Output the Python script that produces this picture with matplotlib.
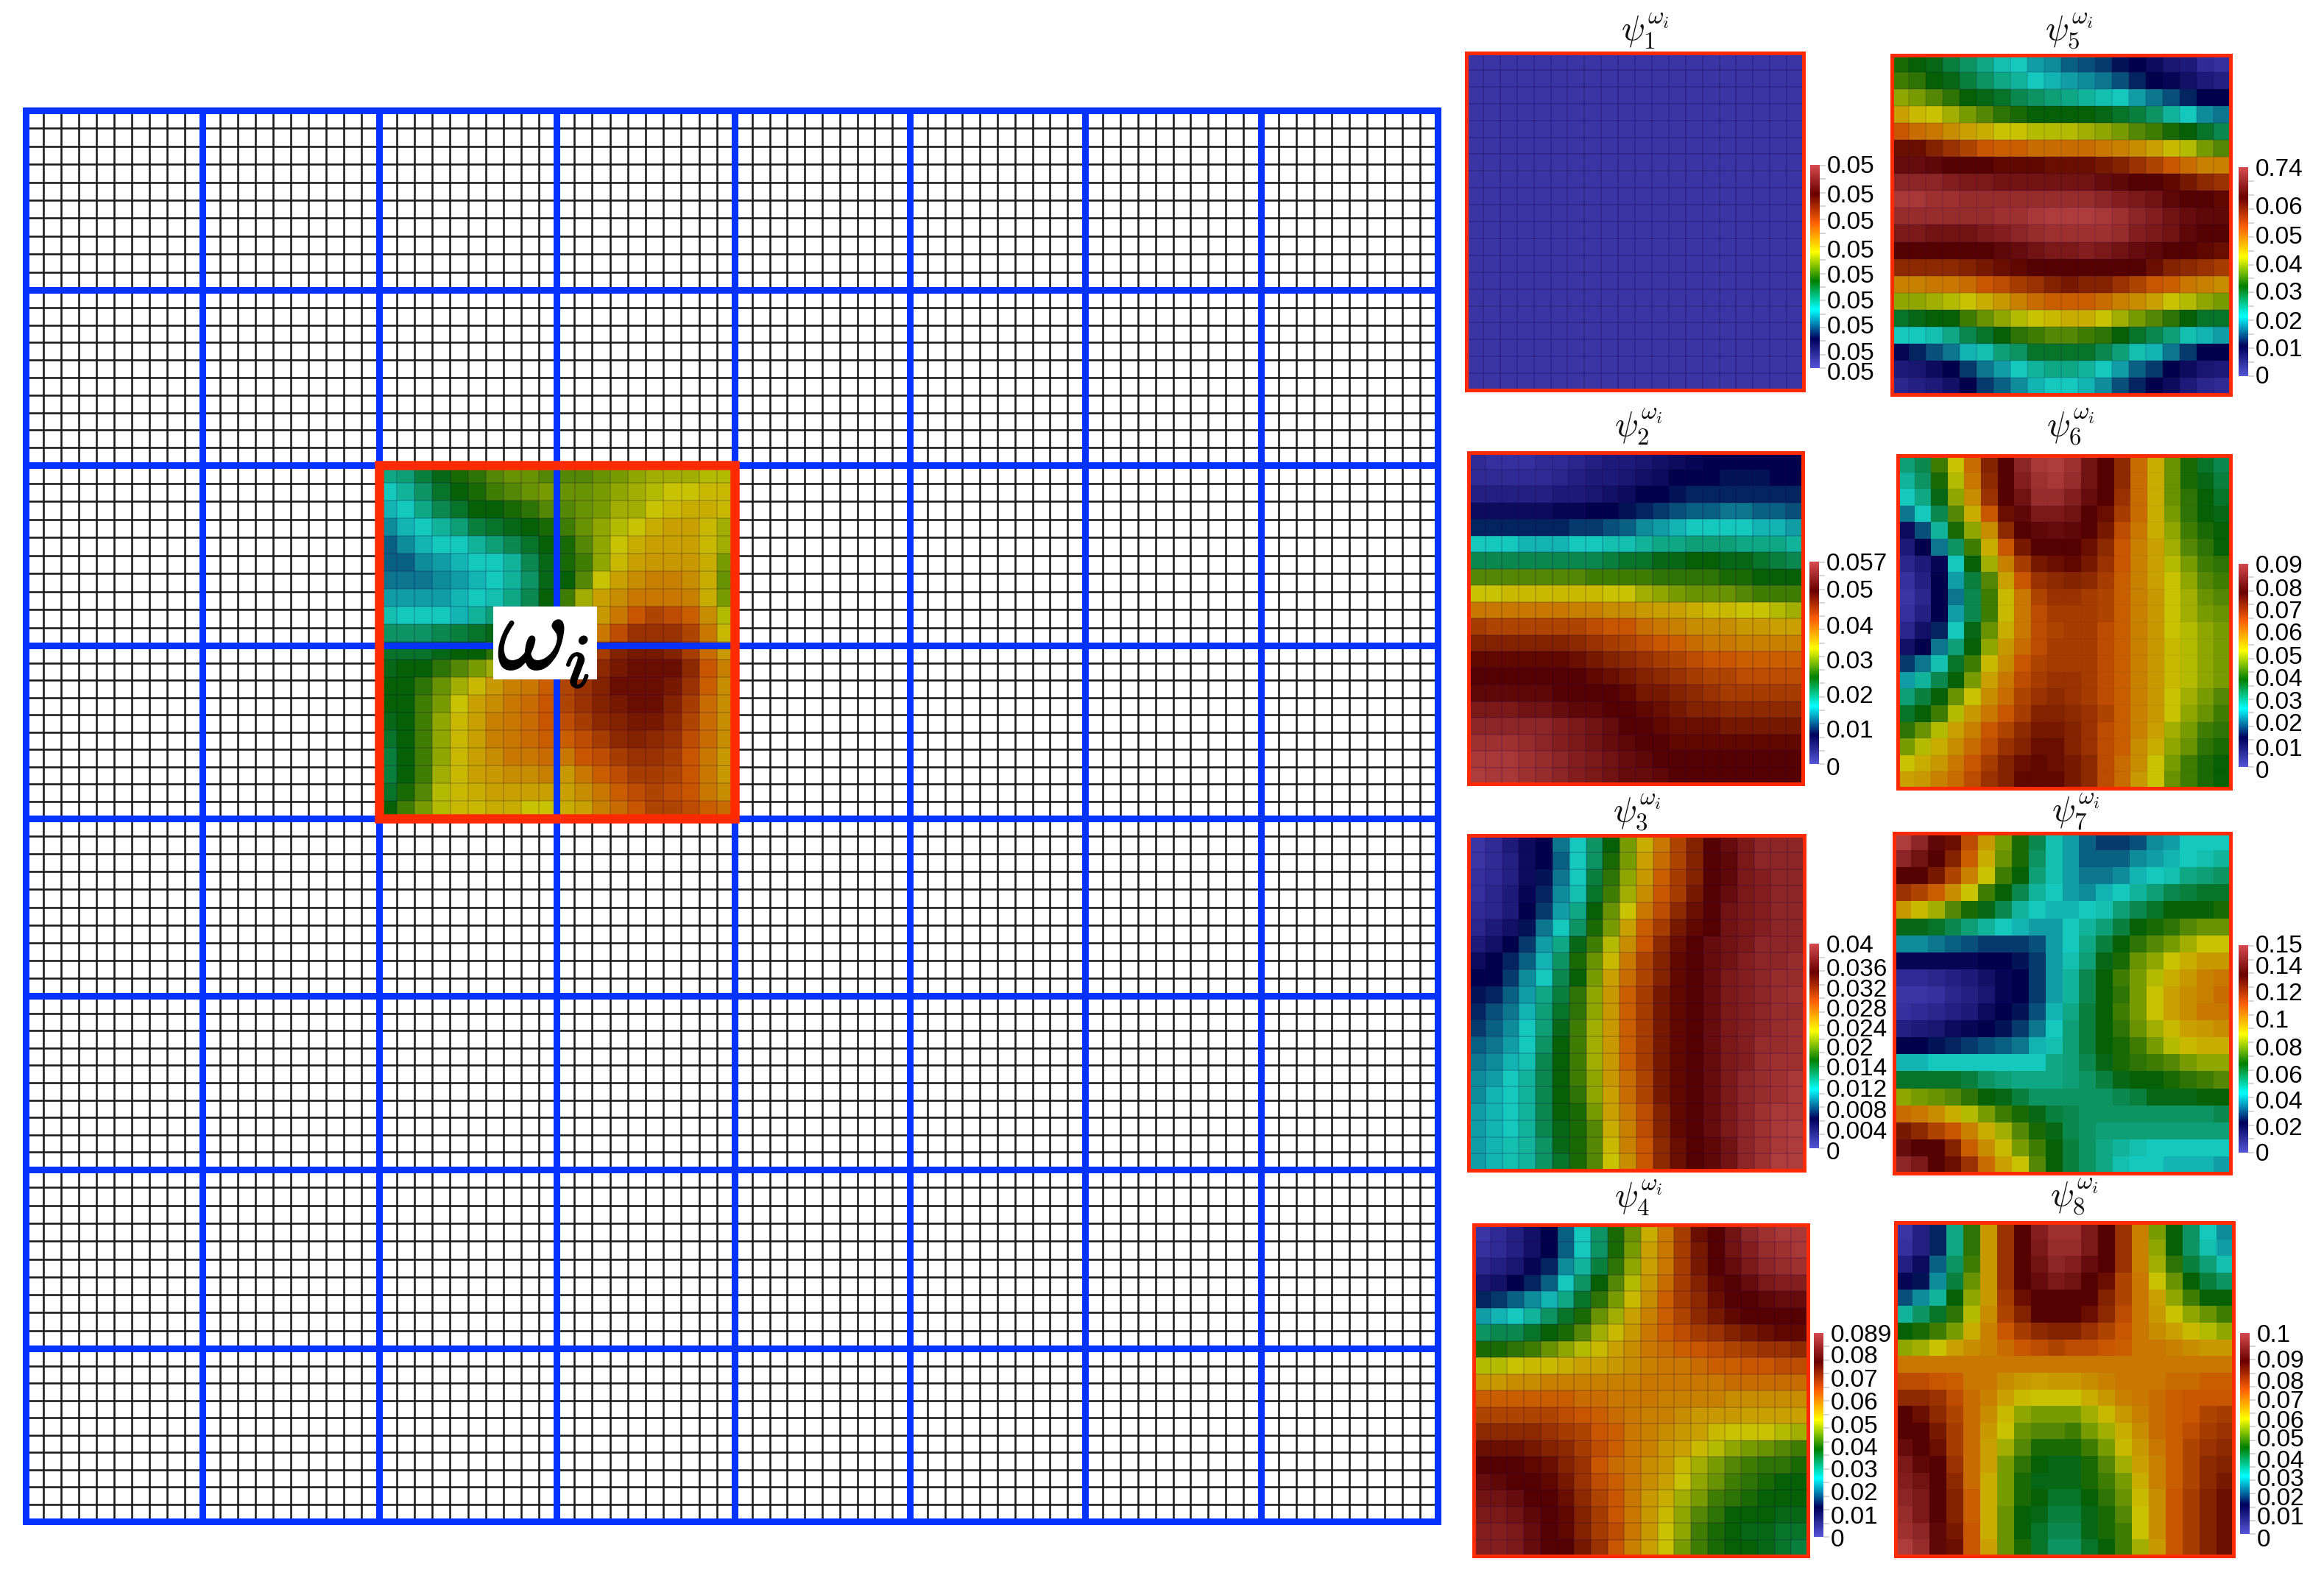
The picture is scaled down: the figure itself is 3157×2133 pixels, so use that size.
import numpy as np
import matplotlib
matplotlib.use("Agg")
import matplotlib.pyplot as plt
import matplotlib.patheffects as pe
from matplotlib.colors import LinearSegmentedColormap
from matplotlib.patches import Rectangle

plt.rcParams['mathtext.fontset'] = 'cm'
plt.rcParams['font.family'] = ['Liberation Sans', 'DejaVu Sans']

W, H = 3157, 2133

# Values are colour levels: 0 bottom of the colour bar, 70 top of the colour bar
psi1 = [[0] * 20 for _ in range(20)]
psi2 = [
 [2,1,1,1,2,2,3,4,5,5,6,7,8,9,10,10,10,10,10,10],
 [2,2,2,2,2,3,4,5,5,6,7,8,10,10,10,11,11,11,10,10],
 [4,4,4,4,4,5,5,6,7,8,10,10,11,12,12,12,12,12,12,12],
 [8,8,8,8,8,9,9,10,10,11,12,13,14,15,15,16,16,15,15,14],
 [12,12,12,12,12,12,13,13,14,15,17,18,19,20,20,20,20,19,19,18],
 [20,20,20,19,19,19,20,20,21,21,22,23,23,24,24,24,23,23,23,22],
 [26,26,26,26,26,26,26,26,27,28,28,29,29,30,30,29,29,28,27,26],
 [34,34,34,34,34,34,34,33,33,33,33,32,32,32,32,31,31,30,30,30],
 [40,40,41,41,41,41,41,41,40,40,38,37,36,35,35,35,34,33,33,33],
 [47,47,47,47,47,47,46,46,45,45,44,43,43,42,41,41,40,40,39,38],
 [53,52,52,52,52,52,52,51,50,50,48,47,46,45,45,45,44,44,43,43],
 [56,56,56,56,56,56,55,54,53,52,51,50,49,48,47,47,46,46,46,46],
 [59,59,59,59,59,59,58,57,56,55,54,53,52,51,50,50,49,49,49,49],
 [60,60,60,60,60,60,60,59,58,57,56,55,54,53,52,52,51,51,51,51],
 [61,61,61,61,61,60,60,60,60,59,57,57,56,55,54,53,53,53,53,53],
 [64,64,64,63,63,62,61,61,60,60,59,58,57,56,56,55,55,55,55,55],
 [66,66,66,66,66,65,64,63,62,60,60,59,58,58,58,57,57,57,57,57],
 [68,68,68,67,66,65,64,63,62,61,60,60,59,59,59,59,59,59,59,59],
 [69,69,69,68,67,66,65,64,63,62,61,60,60,60,60,60,60,60,60,60],
 [70,69,69,68,67,66,65,64,63,62,62,61,60,60,60,60,60,60,60,60],
]
psi3 = [
 [0,2,5,8,10,16,20,25,30,36,42,47,52,56,60,62,64,66,66,66],
 [0,2,4,8,10,15,20,25,31,36,43,48,52,56,60,61,64,66,66,66],
 [1,2,4,8,11,16,20,27,32,37,44,49,53,56,60,61,64,65,66,66],
 [1,3,5,9,12,17,21,28,33,38,45,50,53,57,60,62,64,65,66,66],
 [2,3,5,10,13,18,23,30,35,40,47,51,55,58,60,63,64,65,66,66],
 [3,5,7,11,16,20,25,31,36,43,49,53,57,59,60,63,64,65,66,66],
 [5,7,10,13,18,23,29,33,39,45,50,55,58,60,62,63,64,66,66,66],
 [8,10,12,15,19,25,31,35,41,47,52,56,59,60,62,63,65,66,66,67],
 [10,10,13,17,20,26,30,36,43,48,52,56,59,60,62,64,65,66,67,67],
 [11,12,15,18,23,27,32,37,44,49,53,57,59,60,62,64,65,66,67,68],
 [12,14,16,19,24,28,32,37,44,49,53,57,59,60,62,64,65,66,67,67],
 [13,15,17,20,24,29,33,38,44,49,53,57,59,60,62,64,65,66,67,68],
 [15,16,18,20,25,30,33,38,44,49,53,57,59,60,62,64,65,67,67,68],
 [16,17,19,21,26,30,33,38,44,49,53,57,59,60,62,64,65,67,68,68],
 [17,18,20,22,26,30,33,37,44,48,52,57,59,60,62,64,66,67,68,69],
 [17,19,20,22,26,30,32,37,43,48,52,57,59,60,62,64,66,67,68,69],
 [18,19,20,22,26,30,31,36,43,47,51,56,59,60,62,64,66,68,69,69],
 [18,19,20,22,26,29,31,34,42,46,51,56,59,60,62,64,66,68,69,70],
 [18,19,21,22,25,29,31,34,41,46,50,55,58,60,61,63,66,68,69,70],
 [18,19,21,22,25,28,31,34,40,45,50,55,58,60,61,63,66,68,70,70],
]
psi4 = [
 [0,2,4,7,10,15,20,25,31,35,42,47,53,58,60,63,66,68,69,69],
 [1,2,4,7,10,15,20,25,31,36,43,47,53,57,60,63,65,67,68,69],
 [3,4,6,9,12,17,22,27,32,37,43,47,53,57,60,62,64,66,67,68],
 [6,7,10,12,15,20,25,30,34,39,44,48,53,56,59,60,62,64,65,65],
 [12,13,15,17,19,23,28,32,36,41,45,49,53,55,58,60,60,61,62,62],
 [18,19,20,22,25,28,31,35,38,43,46,49,52,55,57,59,60,60,60,60],
 [25,26,26,28,30,31,34,38,41,44,47,49,51,53,54,56,57,58,59,59],
 [31,31,32,33,35,37,39,41,43,45,47,48,49,50,51,52,53,54,54,55],
 [39,39,40,41,41,42,43,43,44,45,46,47,47,48,49,49,50,50,51,51],
 [44,44,45,45,46,46,46,46,46,46,47,47,47,47,47,48,48,48,48,48],
 [49,49,49,49,49,49,48,48,47,47,47,46,46,46,46,45,45,45,45,45],
 [52,52,52,52,52,51,50,49,48,47,46,46,45,44,44,44,43,43,43,43],
 [55,55,55,55,54,53,52,50,49,47,46,45,44,43,41,40,40,40,39,38],
 [58,58,58,57,56,55,53,51,49,47,46,44,43,41,39,37,36,35,34,33],
 [60,60,60,59,58,56,54,50,48,47,45,44,41,38,36,34,33,32,32,31],
 [62,61,60,60,59,57,54,51,49,47,45,43,40,37,35,33,32,31,30,30],
 [63,63,62,60,60,58,55,52,50,47,44,42,38,36,33,32,31,30,30,30],
 [64,64,63,61,60,59,56,53,50,47,44,41,37,34,32,30,30,30,29,29],
 [65,65,64,62,60,59,56,53,51,47,44,40,37,33,31,30,29,29,28,28],
 [65,65,64,62,60,60,57,54,50,46,43,40,36,33,31,30,30,29,28,27],
]
psi5 = [
 [31,30,29,27,25,23,21,20,18,17,15,14,13,11,10,8,6,5,2,1],
 [33,32,30,29,27,25,23,22,20,19,18,17,16,14,12,10,9,7,5,4],
 [37,36,34,32,30,29,28,26,25,24,23,22,21,20,18,16,14,12,10,10],
 [43,41,40,38,36,34,32,31,30,30,30,30,29,28,27,25,22,20,17,16],
 [50,48,47,45,43,42,40,40,39,39,39,38,37,36,34,33,31,30,28,26],
 [58,58,56,54,52,50,49,49,48,48,48,48,47,46,45,43,41,39,36,34],
 [62,62,61,60,60,60,59,59,59,58,58,58,57,56,54,52,50,48,46,46],
 [66,66,66,65,64,64,63,63,63,63,63,63,62,61,60,60,59,57,55,54],
 [69,69,68,68,67,67,67,67,67,67,67,67,66,65,64,63,61,60,60,59],
 [67,67,67,67,67,67,68,68,69,70,70,70,69,68,66,65,63,62,61,61],
 [64,64,63,63,63,64,65,66,67,68,68,68,68,67,65,64,63,61,60,60],
 [60,60,60,60,60,60,61,62,63,64,64,65,64,63,62,61,60,60,59,58],
 [55,55,55,55,56,57,58,59,60,60,60,60,60,60,60,58,56,55,54,53],
 [46,46,47,47,48,50,51,53,54,56,57,56,56,54,52,50,49,47,46,45],
 [37,37,38,39,40,42,44,46,48,49,49,49,48,46,45,43,40,39,37,36],
 [28,29,30,30,33,35,37,39,40,41,42,42,40,38,36,34,32,30,28,28],
 [20,20,21,23,26,28,30,32,33,34,34,33,32,30,28,26,24,21,19,18],
 [9,12,14,16,19,21,24,25,28,28,28,28,26,24,21,19,16,13,10,10],
 [5,6,8,10,13,16,18,20,22,23,23,22,20,18,15,13,10,8,6,5],
 [3,4,5,7,10,13,15,17,19,20,20,19,17,14,12,10,8,5,3,2],
]
psi6 = [
 [24,26,33,40,48,56,60,66,69,70,68,63,60,55,48,42,35,31,28,26],
 [22,25,31,39,47,55,60,65,68,69,67,63,60,55,48,42,35,31,29,27],
 [20,23,29,37,45,54,60,63,67,67,65,62,60,54,48,42,35,32,30,28],
 [16,20,26,34,42,50,58,61,64,64,63,60,58,53,48,42,36,32,30,29],
 [8,14,22,31,37,45,55,60,61,62,61,60,57,51,47,42,37,33,31,30],
 [5,10,16,25,33,42,50,57,60,60,60,58,55,50,46,43,38,34,32,30],
 [3,5,9,20,30,38,46,53,57,58,59,57,54,50,46,43,39,36,33,32],
 [1,4,10,18,27,34,43,50,54,55,56,55,53,49,46,43,40,37,34,33],
 [0,3,10,16,26,33,41,47,52,54,54,53,52,49,46,44,40,38,35,34],
 [1,4,10,18,26,33,41,47,51,53,53,53,52,49,46,44,40,38,36,35],
 [3,7,12,20,29,35,42,47,51,52,53,53,51,49,46,44,40,39,37,36],
 [7,10,16,24,30,37,44,48,51,53,53,53,51,49,46,44,41,39,37,36],
 [13,16,21,28,33,41,45,50,52,53,53,53,51,49,46,44,41,39,37,36],
 [18,22,26,30,36,43,47,51,53,54,54,53,51,49,46,44,41,39,37,36],
 [24,27,30,35,40,45,48,52,54,55,54,53,51,49,46,44,40,38,36,34],
 [28,30,33,39,44,47,50,53,56,56,55,54,52,49,46,44,40,37,35,33],
 [32,35,39,43,46,50,52,55,57,57,56,54,51,49,46,43,38,36,33,32],
 [36,39,42,45,48,51,54,56,58,58,56,54,51,49,45,42,37,35,32,31],
 [40,42,44,47,50,53,56,58,59,58,57,55,51,48,45,40,36,33,31,30],
 [43,44,46,48,51,54,56,59,59,59,57,55,51,48,44,40,35,33,31,30],
]
psi7 = [
 [70,66,61,58,51,44,36,31,26,21,18,15,13,13,14,17,18,20,20,20],
 [66,63,60,56,49,42,35,31,25,21,18,15,15,15,17,18,19,20,21,22],
 [60,60,57,52,46,40,33,30,24,21,18,16,16,17,19,20,21,23,24,25],
 [54,52,49,45,40,33,30,26,22,20,18,17,19,20,22,24,26,27,28,28],
 [44,41,38,34,31,29,26,22,20,19,19,20,21,24,26,28,30,30,30,31],
 [29,29,28,26,24,22,20,19,18,18,20,22,24,27,30,31,32,34,35,35],
 [17,17,16,15,14,13,13,13,14,18,20,23,27,30,32,34,36,38,40,40],
 [9,9,9,9,9,10,10,11,13,18,21,24,29,31,35,37,40,42,44,44],
 [2,2,3,4,5,7,9,10,13,18,22,26,30,33,36,39,42,44,46,47],
 [0,0,1,3,4,6,9,10,13,18,22,26,30,32,36,40,43,45,46,48],
 [1,2,3,4,5,8,10,11,14,19,23,27,30,33,36,40,43,45,47,47],
 [4,5,6,8,9,10,11,13,16,20,24,27,30,32,35,38,41,43,44,45],
 [10,10,11,12,13,14,15,16,19,21,24,27,30,31,33,36,39,41,42,42],
 [19,19,20,20,20,20,20,20,20,23,24,26,29,31,32,33,34,36,37,37],
 [28,28,28,28,27,25,24,23,23,23,24,25,27,29,30,30,31,32,33,34],
 [37,36,35,34,32,30,29,27,25,25,25,25,25,26,27,29,29,29,30,30],
 [48,47,45,42,39,36,33,31,29,27,26,25,25,25,25,25,25,25,25,26],
 [57,55,52,50,46,42,38,34,31,29,26,25,24,24,24,24,24,24,24,24],
 [62,60,60,56,49,45,41,36,33,30,27,25,23,22,21,20,20,20,20,20],
 [66,64,60,58,54,48,43,40,34,30,27,25,23,21,20,20,19,19,19,18],
]
psi8 = [
 [0,4,12,23,32,44,54,60,65,68,68,64,60,54,46,36,30,25,20,17],
 [1,4,12,23,32,44,54,60,64,67,67,64,60,54,46,37,30,25,21,18],
 [4,8,15,25,33,44,54,60,63,66,65,62,60,54,46,38,32,27,24,21],
 [9,11,17,27,35,44,54,60,62,64,63,60,58,52,47,40,35,30,27,25],
 [14,17,22,30,37,44,53,58,60,60,60,60,56,52,47,43,37,33,30,30],
 [22,25,28,32,39,45,52,56,60,60,60,58,55,51,47,44,40,37,35,33],
 [30,31,33,36,42,46,50,53,55,56,56,54,52,50,47,45,43,41,39,37],
 [37,38,40,43,45,46,48,50,51,52,51,51,50,49,47,47,46,45,44,44],
 [47,47,47,47,47,47,47,47,47,47,47,47,47,47,47,47,47,47,47,47],
 [51,51,50,49,47,47,45,44,43,44,44,45,46,47,47,47,48,48,49,49],
 [55,55,54,51,48,46,43,41,40,40,40,42,44,46,47,48,49,50,50,50],
 [60,58,55,52,48,45,41,37,36,36,36,38,41,44,46,48,49,50,52,53],
 [60,60,57,53,48,44,40,35,34,34,33,36,38,42,45,48,49,51,53,54],
 [62,60,58,53,48,43,38,34,31,31,31,33,36,41,44,47,49,52,54,55],
 [64,61,60,54,48,43,36,32,30,29,29,31,34,38,43,46,49,52,55,56],
 [65,63,60,55,48,42,36,31,29,29,29,31,33,36,42,46,49,52,55,57],
 [66,64,60,56,49,42,36,31,30,28,28,30,32,35,41,45,50,53,56,58],
 [67,64,60,56,49,42,35,30,29,27,27,29,31,34,40,45,50,53,56,58],
 [68,66,61,57,50,42,35,30,28,26,26,29,31,33,40,45,50,53,56,58],
 [70,67,61,58,50,43,35,31,28,25,25,28,30,33,38,44,50,53,56,58],
]
omega = [
 [23,24,27,29,31,32,34,35,35,34,34,34,35,36,37,38,38,38,39,39],
 [20,22,25,28,30,31,33,34,35,36,35,35,36,37,38,39,40,40,41,41],
 [19,20,23,26,28,30,30,31,32,34,34,35,36,38,38,40,41,42,42,41],
 [17,19,20,22,24,27,28,29,30,31,33,35,37,39,40,42,43,43,41,38],
 [15,17,19,20,20,22,24,26,28,30,31,34,37,40,42,43,43,43,41,38],
 [15,15,17,18,19,20,20,22,26,29,31,33,37,41,43,44,44,44,42,36],
 [16,16,16,17,18,19,20,22,25,29,30,34,40,43,45,46,46,45,42,35],
 [18,18,18,18,19,20,21,23,26,30,33,38,43,45,47,47,47,46,42,36],
 [21,20,20,20,19,22,24,25,27,30,31,36,44,47,50,52,51,49,45,39],
 [25,25,25,26,27,28,29,30,31,32,34,40,47,51,54,54,54,52,47,41],
 [28,28,28,29,30,30,32,34,36,38,44,50,53,56,57,57,56,53,48,44],
 [29,30,30,32,34,36,38,40,42,44,48,52,55,57,58,58,58,55,50,46],
 [30,30,32,35,38,41,44,46,47,49,52,54,56,58,58,58,57,54,49,45],
 [30,30,33,36,40,43,45,47,48,50,52,54,56,57,58,58,56,53,48,45],
 [29,30,33,37,41,43,46,47,48,50,51,53,55,56,57,57,55,52,48,45],
 [28,30,33,37,41,43,46,47,48,49,49,51,53,55,56,55,54,51,48,45],
 [27,30,33,37,41,43,45,47,47,48,47,50,51,53,54,54,53,50,47,44],
 [27,30,33,38,41,43,44,45,45,46,44,47,49,51,53,53,52,50,47,44],
 [28,31,34,39,41,42,43,43,43,43,43,45,47,49,51,52,51,50,47,45],
 [30,33,36,39,41,41,42,42,40,40,42,43,46,48,50,52,52,51,49,48],
]

titles = [r'$\psi_{%d}^{\omega_i}$' % k for k in range(1, 9)]
tick_labels = [
 ['0.05'] * 9,
 ['0.057', '0.05', '0.04', '0.03', '0.02', '0.01', '0'],
 ['0.04', '0.036', '0.032', '0.028', '0.024', '0.02', '0.014', '0.012', '0.008', '0.004', '0'],
 ['0.089', '0.08', '0.07', '0.06', '0.05', '0.04', '0.03', '0.02', '0.01', '0'],
 ['0.74', '0.06', '0.05', '0.04', '0.03', '0.02', '0.01', '0'],
 ['0.09', '0.08', '0.07', '0.06', '0.05', '0.04', '0.03', '0.02', '0.01', '0'],
 ['0.15', '0.14', '0.12', '0.1', '0.08', '0.06', '0.04', '0.02', '0'],
 ['0.1', '0.09', '0.08', '0.07', '0.06', '0.05', '0.04', '0.03', '0.02', '0.01', '0'],
]
grids = [psi1, psi2, psi3, psi4, psi5, psi6, psi7, psi8]

# ---------- layout (pixels) ----------
coarse_x = [35, 275, 515, 756, 998, 1236, 1474, 1713, 1953]
coarse_y = [150, 394, 632, 877, 1112, 1353, 1589, 1832, 2067]
panel_boxes = [(1992, 72, 2450, 530), (1995, 615, 2449, 1065), (1995, 1135, 2451, 1590), (2002, 1664, 2456, 2114),
               (2570, 75, 3030, 536), (2578, 619, 3030, 1071), (2573, 1132, 3030, 1594), (2575, 1661, 3034, 2114)]
bar_boxes = [(2459, 223, 2472, 504), (2458, 763, 2471, 1041), (2458, 1282, 2471, 1563), (2464, 1811, 2477, 2089),
             (3041, 227, 3054, 511), (3041, 766, 3054, 1045), (3041, 1282, 3054, 1566), (3043, 1811, 3056, 2089)]
tick_y = [
 [221, 262, 299, 338, 373, 409, 444, 480, 508],
 [762, 800, 849, 897, 945, 992, 1044],
 [1282, 1314, 1343, 1370, 1397, 1423, 1451, 1480, 1509, 1538, 1566],
 [1811, 1840, 1872, 1903, 1935, 1966, 1996, 2027, 2059, 2090],
 [227, 279, 319, 358, 395, 435, 472, 509],
 [766, 798, 829, 859, 891, 922, 953, 983, 1018, 1048],
 [1279, 1308, 1345, 1382, 1420, 1458, 1493, 1530, 1565],
 [1811, 1847, 1876, 1903, 1930, 1956, 1985, 2011, 2037, 2063, 2094],
]
title_xy = [(2235, 43), (2226, 580), (2224, 1104), (2226, 1628),
            (2811, 43), (2813, 580), (2820, 1104), (2818, 1626)]
grid_alpha = [0.30, 0.22, 0.22, 0.22, 0.14, 0.03, 0.0, 0.0]

BLUE, RED = '#0533fb', '#ff2a00'
px = 72 / 100  # points per pixel at dpi 100

panel_cmap = LinearSegmentedColormap.from_list('panel', [
    (58/255, 52/255, 165/255), (0, 0, 75/255), (20/255, 200/255, 190/255), (5/255, 95/255, 5/255),
    (200/255, 195/255, 0), (200/255, 85/255, 0), (85/255, 0, 0), (175/255, 60/255, 60/255)])
bar_cmap = LinearSegmentedColormap.from_list('bar', [
    (85/255, 85/255, 215/255), (0, 0, 92/255), (0, 1, 1), (0, 128/255, 0),
    (1, 1, 0), (1, 97/255, 0), (107/255, 0, 0), (215/255, 75/255, 80/255)])

fig = plt.figure(figsize=(W / 100, H / 100), dpi=100, facecolor='white')


def box_axes(x0, y0, x1, y1):
    return fig.add_axes([x0 / W, 1 - y1 / H, (x1 - x0) / W, (y1 - y0) / H])


main = fig.add_axes([0, 0, 1, 1])
main.set_xlim(0, W)
main.set_ylim(H, 0)
main.axis('off')

fine_x = np.concatenate([np.linspace(a, b, 11) for a, b in zip(coarse_x[:-1], coarse_x[1:])])
fine_y = np.concatenate([np.linspace(a, b, 11) for a, b in zip(coarse_y[:-1], coarse_y[1:])])
main.vlines(fine_x, coarse_y[0], coarse_y[-1], color='#1c1c1c', lw=2.6 * px, zorder=1)
main.hlines(fine_y, coarse_x[0], coarse_x[-1], color='#1c1c1c', lw=2.6 * px, zorder=1)

# highlighted subdomain
ex = np.linspace(coarse_x[2], coarse_x[4], 21)
ey = np.linspace(coarse_y[2], coarse_y[4], 21)
main.pcolormesh(ex, ey, np.array(omega), cmap=panel_cmap, vmin=0, vmax=70, shading='flat', zorder=2)
main.vlines(ex, ey[0], ey[-1], color=(0.1, 0, 0.3, 0.22), lw=1.5 * px, zorder=3)
main.hlines(ey, ex[0], ex[-1], color=(0.1, 0, 0.3, 0.22), lw=1.5 * px, zorder=3)

main.vlines(coarse_x, coarse_y[0] - 4, coarse_y[-1] + 4, color=BLUE, lw=9 * px, zorder=4)
main.hlines(coarse_y, coarse_x[0] - 4, coarse_x[-1] + 4, color=BLUE, lw=9 * px, zorder=4)
main.add_patch(Rectangle((coarse_x[2], coarse_y[2]), coarse_x[4] - coarse_x[2], coarse_y[4] - coarse_y[2],
                         fill=False, ec=RED, lw=12.5 * px, zorder=5, joinstyle='miter'))
main.add_patch(Rectangle((670, 824), 141, 99, fc='white', ec='none', zorder=6))
main.text(738, 871, r'$\omega_i$', fontsize=106, ha='center', va='center', color='black', zorder=7,
          path_effects=[pe.withStroke(linewidth=2.0, foreground='black')])

# basis-function panels
for k in range(8):
    ax = box_axes(*panel_boxes[k])
    ax.pcolormesh(np.arange(21), np.arange(21), np.array(grids[k]), cmap=panel_cmap,
                  vmin=0, vmax=70, shading='flat')
    if grid_alpha[k] > 0:
        ax.vlines(np.arange(1, 20), 0, 20, color=(0.1, 0, 0.3, grid_alpha[k]), lw=1.5 * px)
        ax.hlines(np.arange(1, 20), 0, 20, color=(0.1, 0, 0.3, grid_alpha[k]), lw=1.5 * px)
    ax.set_xlim(0, 20)
    ax.set_ylim(20, 0)
    ax.set_xticks([])
    ax.set_yticks([])
    for s in ax.spines.values():
        s.set_color(RED)
        s.set_linewidth(5 * px)
    main.text(*title_xy[k], titles[k], fontsize=34, ha='center', va='center', color='#111111')

    x0, y0, x1, y1 = bar_boxes[k]
    cb = box_axes(x0, y0, x1, y1)
    levels = np.linspace(0, 1, 256)[::-1].reshape(-1, 1)
    cb.imshow(levels, cmap=bar_cmap, aspect='auto', vmin=0, vmax=1, extent=(0, 1, y1, y0))
    cb.set_xticks([])
    cb.set_xlim(0, 1)
    cb.set_ylim(y1, y0)
    cb.yaxis.tick_right()
    cb.set_yticks(tick_y[k], tick_labels[k], fontsize=24)
    cb.set_yticks(np.linspace(y0, y1, 16), minor=True)
    cb.tick_params(axis='y', which='major', length=0, pad=10 * px)
    cb.tick_params(axis='y', which='minor', length=8 * px, width=1.5 * px, color='#c8c8c8')
    for lab in cb.get_yticklabels():
        lab.set_clip_on(False)
    for s in cb.spines.values():
        s.set_visible(False)

fig.savefig('out.png', dpi=100, facecolor='white')
